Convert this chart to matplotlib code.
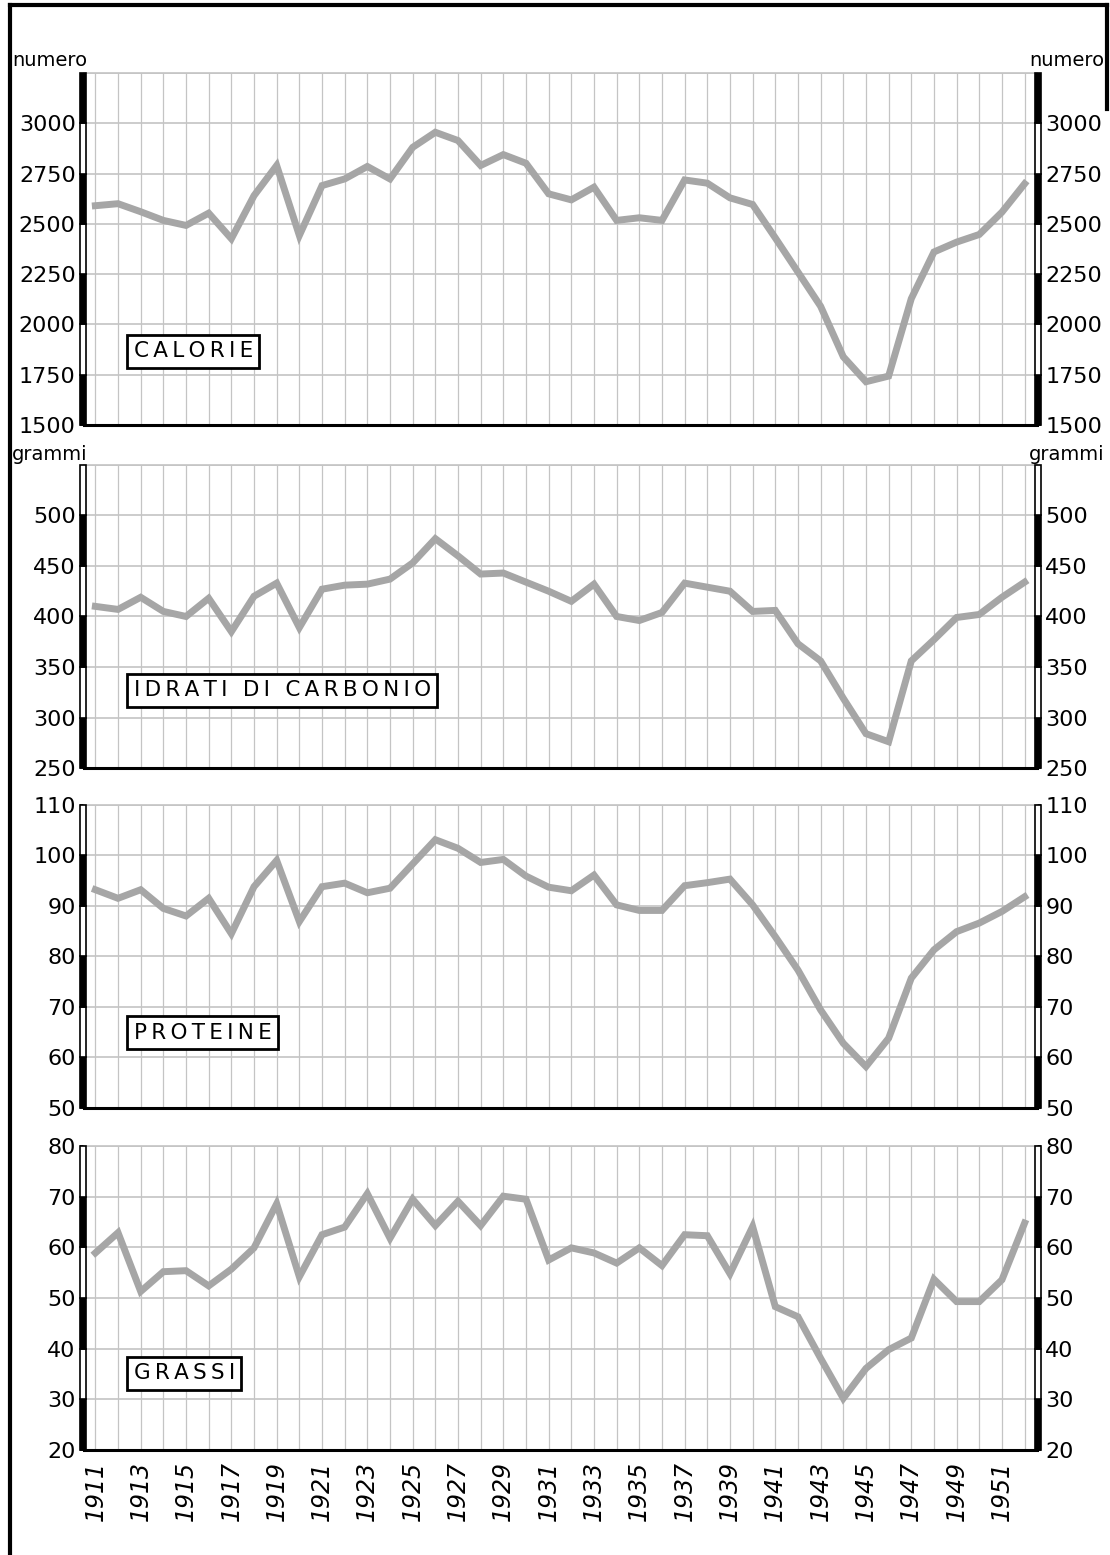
import matplotlib
matplotlib.use("Agg")
import matplotlib.pyplot as plt
import matplotlib.transforms as mtransforms
from matplotlib.patches import Rectangle
from matplotlib.lines import Line2D

# dati (consumi medi giornalieri per abitante)
anni = list(range(1911, 1953))

calorie = [2590, 2600, 2560, 2517, 2492, 2553, 2426, 2640, 2790, 2442,
           2690, 2723, 2785, 2723, 2880, 2955, 2914, 2790, 2844, 2801,
           2649, 2619, 2682, 2517, 2530, 2517, 2718, 2702, 2629, 2596,
           2430, 2260, 2090, 1839, 1715, 1743, 2128, 2360, 2409, 2447,
           2558, 2699]

idrati = [410, 407, 419, 405, 400, 418, 385, 420, 433, 389,
          427, 431, 432, 437, 453, 477, 460, 442, 443, 434,
          425, 415, 432, 400, 396, 404, 433, 429, 425, 405,
          406, 373, 356, 319, 284, 276, 356, 377, 399, 402,
          419, 434]

proteine = [93.2, 91.5, 93.2, 89.5, 88.0, 91.5, 84.5, 93.8, 99.0, 86.9,
            93.8, 94.5, 92.6, 93.5, 98.3, 103.1, 101.4, 98.6, 99.2, 95.9,
            93.7, 93.0, 96.1, 90.2, 89.1, 89.1, 94.0, 94.6, 95.3, 90.2,
            83.9, 77.3, 69.4, 62.8, 58.2, 63.8, 75.7, 81.3, 84.9, 86.6,
            88.9, 91.8]

grassi = [58.9, 62.9, 51.3, 55.2, 55.4, 52.4, 55.7, 59.9, 68.6, 54.2,
          62.5, 64.0, 70.6, 61.8, 69.5, 64.3, 69.1, 64.3, 70.1, 69.5,
          57.5, 59.9, 58.9, 56.9, 59.9, 56.4, 62.5, 62.3, 54.8, 64.1,
          48.3, 46.3, 38.1, 30.2, 36.1, 39.8, 42.1, 53.7, 49.3, 49.3,
          53.6, 64.8]

titoli = ["CALORIE", "IDRATI DI CARBONIO", "PROTEINE", "GRASSI"]
serie = [calorie, idrati, proteine, grassi]
limiti = [(1500, 3250), (250, 550), (50, 110), (20, 80)]
passi = [250, 50, 10, 10]
ultimo_tick = [3000, 500, 110, 80]

# posizioni pannelli [left, bottom, width, height] in frazione di figura
box = [[0.0757, 0.7267, 0.8586, 0.2264],
       [0.0757, 0.5061, 0.8586, 0.1949],
       [0.0757, 0.2875, 0.8586, 0.1949],
       [0.0757, 0.0675, 0.8586, 0.1955]]

plt.rcParams['font.family'] = ['DejaVu Sans']

fig = plt.figure(figsize=(11.1, 15.55), dpi=100)
grigio_linea = '#a6a6a6'
grigio_griglia = '#c4c4c4'


def spaziato(s):
    # lettere distanziate come nell'originale
    return "\u2009".join(s)


for i in range(4):
    ax = fig.add_axes(box[i])
    y0, y1 = limiti[i]
    passo = passi[i]
    ax.plot(anni, serie[i], color=grigio_linea, lw=5, solid_joinstyle='miter', zorder=3)
    ax.set_xlim(1910.5, 1952.55)
    ax.set_ylim(y0, y1)

    # griglia
    for a in anni:
        ax.axvline(a, color=grigio_griglia, lw=0.9, zorder=1)
    t = y0 + passo
    while t < y1 + 0.001:
        ax.axhline(t, color=grigio_griglia, lw=1.2, zorder=1)
        t += passo

    ticks = list(range(y0, ultimo_tick[i] + 1, passo))
    ax.set_yticks(ticks)
    ax.set_yticklabels([str(v) for v in ticks])
    ax.tick_params(axis='y', which='both', labelsize=16, length=3, width=1.2,
                   left=True, right=True, labelleft=True, labelright=True, pad=3)
    ax.set_xticks([a for a in anni if a % 2 == 1])
    if i == 3:
        ax.set_xticklabels([str(a) for a in anni if a % 2 == 1], rotation=90,
                           fontsize=17, style='italic')
        ax.tick_params(axis='x', length=0, pad=8)
    else:
        ax.tick_params(axis='x', length=0, labelbottom=False)

    for s in ['left', 'right']:
        ax.spines[s].set_visible(False)
    ax.spines['top'].set_color(grigio_griglia)
    ax.spines['top'].set_linewidth(1.2)
    ax.spines['bottom'].set_color('black')
    ax.spines['bottom'].set_linewidth(2.2)

    # barre laterali a segmenti bianchi e neri
    trans = mtransforms.blended_transform_factory(ax.transAxes, ax.transData)
    n = 0
    v = y0
    while v < y1 - 0.001:
        col = 'black' if n % 2 == 0 else 'white'
        for xb in [-0.0045, 0.9975]:
            ax.add_patch(Rectangle((xb, v), 0.007, passo, transform=trans,
                                   facecolor=col, edgecolor='black', lw=1.2,
                                   clip_on=False, zorder=5))
        v += passo
        n += 1

    ax.text(0.052, [0.21, 0.257, 0.248, 0.253][i], spaziato(titoli[i]),
            transform=ax.transAxes, fontsize=15.5, va='center', ha='left', zorder=6,
            bbox=dict(boxstyle='square,pad=0.3', facecolor='white', edgecolor='black', lw=2))

# etichette delle unita
fig.text(0.011, 0.961, "numero", fontsize=14, ha='left', va='center')
fig.text(0.995, 0.961, "numero", fontsize=14, ha='right', va='center')
fig.text(0.011, 0.708, "grammi", fontsize=14, ha='left', va='center')
fig.text(0.995, 0.708, "grammi", fontsize=14, ha='right', va='center')

# cornice esterna
fig.add_artist(Line2D([0.009, 0.009], [0.0, 0.997], color='black', lw=3))
fig.add_artist(Line2D([0.009, 0.997], [0.997, 0.997], color='black', lw=3))
fig.add_artist(Line2D([0.997, 0.997], [0.93, 0.997], color='black', lw=3))

plt.savefig("out.png", dpi=100)
